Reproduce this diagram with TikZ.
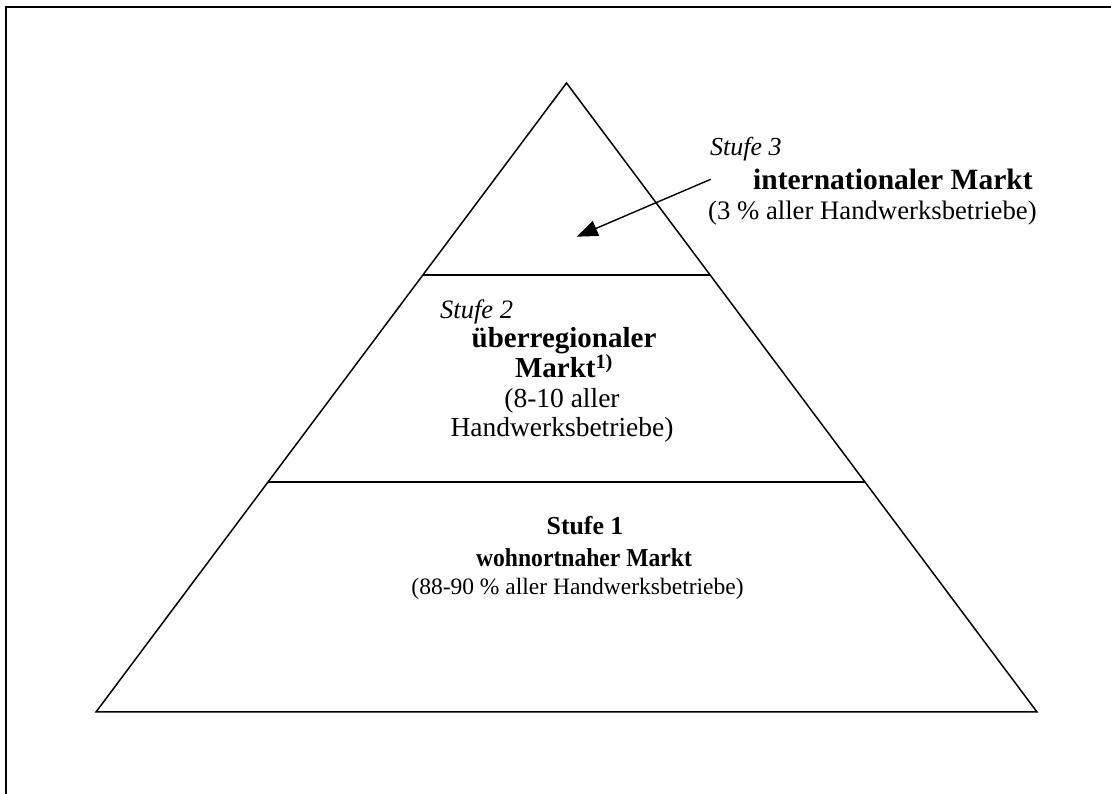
\documentclass[tikz,border=0pt]{standalone}
\usepackage{fontspec}
\setmainfont{Liberation Serif}
\usetikzlibrary{arrows.meta,calc}
\begin{document}
\begin{tikzpicture}[x=1pt,y=1pt,
  frame/.style={line width=2.6pt},
  edge/.style={line width=1.5pt},
  lbl/.style={inner sep=0pt,align=center},
  arr/.style={line width=1.4pt,-{Triangle[length=21pt,width=16pt]}}]
\useasboundingbox (0,0) rectangle (1111,794);
% frame (top and left only)
\coordinate (fTL) at (6,787);
\coordinate (fTR) at (1111,787);
\coordinate (fBL) at (6,0);
\draw[frame] (fTR) -- (fTL) -- (fBL);
% pyramid
\coordinate (apex) at (566.5,711);
\coordinate (BL) at (96,82);
\coordinate (BR) at (1037,82);
\draw[edge,line join=miter] (apex) -- (BL) -- (BR) -- cycle;
\coordinate (l1a) at ($(BL)!0.6948!(apex)$);
\coordinate (l1b) at ($(BR)!0.6948!(apex)$);
\coordinate (l2a) at ($(BL)!0.3657!(apex)$);
\coordinate (l2b) at ($(BR)!0.3657!(apex)$);
\draw[edge] (l1a) -- (l1b);
\draw[edge] (l2a) -- (l2b);
% level 3
\node[lbl,anchor=base west,font={\fontsize{26}{30}\selectfont\itshape}] (s3) at (710,638.5) {Stufe 3};
\node[lbl,anchor=base west,font={\fontsize{29.5}{34}\selectfont\bfseries}] (s3b) at (753,604) {internationaler Markt};
\node[lbl,anchor=base west,font={\fontsize{26.7}{30}\selectfont}] (s3c) at (708,574) {(3 \% aller Handwerksbetriebe)};
\coordinate (arrS) at (710.7,614.7);
\coordinate (arrE) at (576.7,557.3);
\draw[arr] (arrS) -- (arrE);
% level 2
\node[lbl,anchor=base west,font={\fontsize{26.5}{30}\selectfont\itshape}] (s2) at (440,475) {Stufe 2};
\node[lbl,anchor=base,font={\fontsize{29}{26.3}\selectfont\bfseries}] (s2b) at (564,416) {überregionaler\\Markt\textsuperscript{1)}};
\node[lbl,anchor=base,font={\fontsize{27.5}{28.7}\selectfont}] (s2d) at (562,357.3) {(8-10 aller\\Handwerksbetriebe)};
% level 1
\node[lbl,anchor=base,font={\fontsize{25.8}{30}\selectfont\bfseries}] (s1) at (585,259) {Stufe 1};
\node[lbl,anchor=base,font={\fontsize{25.8}{28}\selectfont\bfseries}] (s1b) at (584,227.3) {\scalebox{0.915}[1]{wohnortnaher Markt}};
\node[lbl,anchor=base,font={\fontsize{23.5}{28}\selectfont}] (s1c) at (577.5,199) {(88-90 \% aller Handwerksbetriebe)};
\end{tikzpicture}
\end{document}
